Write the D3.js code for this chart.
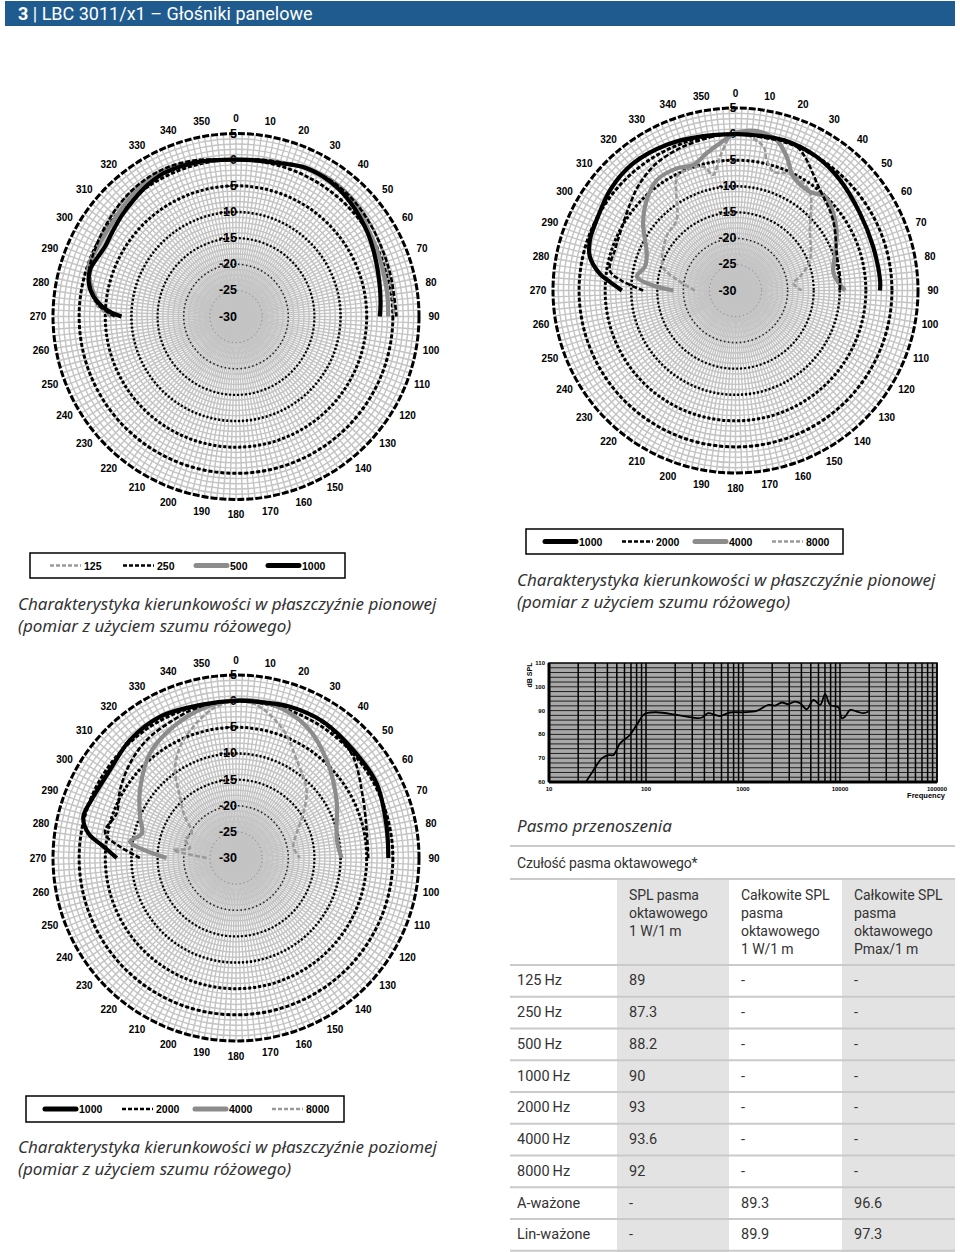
<!DOCTYPE html>
<html><head><meta charset="utf-8">
<script src="https://cdn.jsdelivr.net/npm/d3@7"></script>
<style>body{margin:0;background:#fff}</style>
</head><body>
<svg id="c" width="960" height="1252"></svg>
<script>
// ===== DATA =====
const headerNum = "3";
const headerTitle = " | LBC 3011/x1 – Głośniki panelowe";
const angleLabels = d3.range(0, 360, 10);
const dbLabels = [5, 0, -5, -10, -15, -20, -25, -30];

const lowSeries = ["125", "250", "500", "1000"];
const highSeries = ["1000", "2000", "4000", "8000"];

// Polar 1 – vertical plane, 125/250/500/1000 Hz  ([angle°, dB])
const p1_125 = [[-90,-6.0],[-85,-3.2],[-79,-1.8],[-72,-0.9],[-64,-0.3],[-55,0.3],[-45,0.9],[-35,1.3],[-25,1.3],[-15,0.8],[-6,0.2],[0,0],[8,0.3],[16,0.8],[25,1.4],[35,1.8],[45,1.8],[55,1.3],[65,0.7],[75,0.3],[83,0.2],[90,0.3]];
const p1_250 = [[-90,-6.8],[-85,-3.5],[-79,-1.5],[-72,-0.5],[-64,-0.1],[-55,0.4],[-45,1.0],[-35,1.4],[-25,1.4],[-15,0.9],[-6,0.2],[0,0],[8,0.3],[16,0.7],[25,1.3],[35,1.7],[45,1.6],[55,1.2],[65,0.8],[75,0.6],[83,0.5],[90,0.7]];
const p1_500 = [[-90,-6.2],[-84,-3.5],[-77,-1.4],[-71,-0.2],[-64,-0.4],[-55,-0.4],[-45,0.2],[-35,0.8],[-25,0.9],[-15,0.5],[-6,0.1],[0,0],[8,0.2],[16,0.6],[25,1.4],[35,1.8],[45,1.5],[53,0.6],[65,-0.2],[80,-0.7],[90,-0.9]];
const p1_1000 = [[-90,-8.1],[-87,-5.2],[-82,-2.5],[-77,-1.1],[-72,-0.7],[-67,-1.2],[-62,-1.6],[-55,-1.3],[-48,-0.8],[-41,-0.3],[-34,0.3],[-27,0.7],[-20,0.6],[-13,0.4],[-6,0.1],[0,0],[7,0.1],[14,0.3],[20,0.9],[25,1.4],[32,1.5],[39,1.3],[45,0.9],[51,0.4],[58,-0.2],[64,-0.8],[72,-1.5],[80,-2.0],[86,-2.3],[90,-2.5]];

// Polar 2 – vertical plane, 1000/2000/4000/8000 Hz
const p2_1000 = [[-90,-8.2],[-86,-5.8],[-83,-3.8],[-77,-1.35],[-71,-0.46],[-63,-0.13],[-51,0.84],[-39,1.3],[-25,0.9],[-13,0.3],[0,0],[5,0],[18,0.3],[31,0],[43,-0.8],[58,-1.9],[72,-2.3],[86,-2.2],[90,-2.3]];
const p2_2000 = [[-90,-12.3],[-85,-8],[-81,-5.6],[-71,-5.6],[-64,-5.3],[-50,-3.75],[-42,-2.5],[-32,-1.3],[-20,-0.65],[-7,-0.1],[0,0],[12,-0.2],[23,0],[40,-4.8],[54,-6.9],[72,-9.5],[83,-9.8],[90,-10]];
const p2_4000 = [[-90,-18.1],[-86,-13.6],[-82,-10.9],[-75,-12.05],[-67,-11.5],[-54,-8.1],[-44.5,-5.7],[-35.5,-4.0],[-25.7,-4.0],[-18.6,-4.6],[-11.9,-3.1],[-6,-1.6],[0,0.15],[4,0.7],[8.8,0.8],[15.3,-0.1],[20.9,-2.5],[26.9,-5.5],[37,-6.3],[43.6,-5.1],[51.7,-6.1],[60.5,-7.7],[69.5,-9.6],[80,-10.9],[90,-9]];
const p2_8000 = [[-90,-22.2],[-80,-18.85],[-72,-15.4],[-52,-13.2],[-40,-12.4],[-27,-5.4],[-22,-5.06],[-14.6,-5.46],[-10.9,-7.4],[-6.6,-4.15],[-2,-0.47],[0.4,0.5],[11,-1.9],[13.4,-4.26],[17.7,-6.08],[23.6,-5.47],[30.3,-5.46],[37.5,-6.5],[50.9,-11.6],[67.7,-14.56],[77.9,-17.35],[82.9,-18.8],[90,-17.3]];

// Polar 3 – horizontal plane, 1000/2000/4000/8000 Hz
const p3_1000 = [[-90,-7.2],[-85,-4.54],[-80.5,-1.38],[-75,0.24],[-67,-0.3],[-55,-0.6],[-42,0.33],[-28,0.68],[-13,0.05],[0,0.08],[7.5,0.15],[19.6,0.72],[32.6,0.96],[47.4,0.49],[62,0.45],[78,-0.57],[90,-0.87]];
const p3_2000 = [[-90,-11.6],[-84.4,-7.7],[-80.6,-4.94],[-77.9,-4.4],[-69.5,-5.63],[-59.6,-4.29],[-48.2,-2.82],[-37.1,-1.7],[-24.4,-1.02],[-13.4,-0.25],[0,0],[12,0.2],[25.8,0.9],[38,0.5],[49,-0.36],[65.5,-3.24],[77.9,-4.45],[90,-4.7]];
const p3_4000 = [[-90,-16.7],[-81.2,-9.5],[-75.3,-11.4],[-66.7,-10.0],[-54.7,-7.5],[-39.4,-4.1],[-25.5,-2.17],[-11,-0.53],[0,0.2],[13.7,0.11],[28.3,-1.48],[42.8,-4.47],[60,-7.8],[79.9,-10.4],[90,-9.8]];
const p3_8000 = [[-90,-24.4],[-82.7,-17.9],[-78,-21],[-70,-19.6],[-61,-20.3],[-50,-17],[-42.4,-14.1],[-34.7,-9.5],[-26.7,-6.2],[-18,-3.6],[-8.6,-1.06],[0,0],[7.7,-0.48],[20.3,-3.9],[31.8,-7.96],[46,-11.25],[56.4,-14.55],[67.9,-17.5],[78.8,-18.8],[90,-17.8]];

// Captions
const captionVert = ["Charakterystyka kierunkowości w płaszczyźnie pionowej", "(pomiar z użyciem szumu różowego)"];
const captionHor = ["Charakterystyka kierunkowości w płaszczyźnie poziomej", "(pomiar z użyciem szumu różowego)"];

// Frequency response
const freqHz = [24,28,35,41,46,54,68,80,94,101,128,206,307,374,438,514,578,734,1007,1384,1827,2140,2512,2940,3444,3880,4545,5322,6237,7030,7910,9660,10450,11300,12730,14920,17500,19700];
const splDb  = [60,64.2,69.9,71.3,71.3,76.2,79.7,83.9,88.2,88.9,89.3,88.2,87.0,87.0,88.9,88.2,87.7,89.2,89.3,89.9,92.4,92.1,93.4,92.7,93.8,93.1,90.6,94.5,92.4,96.9,92.4,91.3,86.8,87.5,90.3,89.6,88.9,89.6];
const freqTicks = [10, 100, 1000, 10000, 100000];
const splTicks = [60, 70, 80, 90, 100, 110];

// Table
const tableTitle = "Czułość pasma oktawowego*";
const colHeaders = [["SPL pasma","oktawowego","1 W/1 m"],["Całkowite SPL","pasma","oktawowego","1 W/1 m"],["Całkowite SPL","pasma","oktawowego","Pmax/1 m"]];
const rowLabels = ["125\u2009Hz","250\u2009Hz","500\u2009Hz","1000\u2009Hz","2000\u2009Hz","4000\u2009Hz","8000\u2009Hz","A-ważone","Lin-ważone"];
const colSplOctave = ["89","87.3","88.2","90","93","93.6","92","-","-"];
const colTotal1W  = ["-","-","-","-","-","-","-","89.3","89.9"];
const colTotalPmax = ["-","-","-","-","-","-","-","96.6","97.3"];

// ===== DRAWING =====
const svg = d3.select("#c");
const BF = "'Liberation Sans', Arial, sans-serif";
const TF = "Roboto, 'Noto Sans', sans-serif";
const CF = "'Noto Sans', sans-serif";

const styles = {
  "1000": {stroke:"#000", w:4.2, dash:null},
  "2000": {stroke:"#000", w:2.6, dash:"5,2"},
  "250":  {stroke:"#000", w:2.6, dash:"5,2"},
  "4000": {stroke:"#8c8c8c", w:4.2, dash:null},
  "500":  {stroke:"#8c8c8c", w:4.2, dash:null},
  "8000": {stroke:"#9a9a9a", w:2.6, dash:"5,2"},
  "125":  {stroke:"#9a9a9a", w:2.6, dash:"5,2"}
};

// header
svg.append("rect").attr("x",5).attr("y",1).attr("width",950).attr("height",25).attr("fill","#205b8f");
const ht = svg.append("text").attr("x",18).attr("y",20).attr("fill","#fff")
  .style("font-family",TF).style("font-size","18px");
ht.append("tspan").attr("font-weight","bold").text(headerNum);
ht.append("tspan").text(headerTitle);

function drawPolar(cx, cy, R, series) {
  const g = svg.append("g").attr("transform",`translate(${cx},${cy})`);
  const r = d3.scaleLinear().domain([-30,5]).range([0,R]);
  const rad = a => a*Math.PI/180;
  g.append("circle").attr("r",R).attr("fill","#fff");
  g.append("g").selectAll("line").data(d3.range(0,360,2)).join("line")
    .attr("x1",0).attr("y1",0)
    .attr("x2",a=>R*Math.sin(rad(a))).attr("y2",a=>-R*Math.cos(rad(a)))
    .attr("stroke","#c4c4c4").attr("stroke-width",1.45);
  g.append("g").selectAll("circle").data(d3.range(-29,5,1)).join("circle")
    .attr("r",d=>r(d)).attr("fill","none").attr("stroke","#c4c4c4").attr("stroke-width",1.45);
  const ring = {"5":[3,"7,2","#000"],"0":[3,"4,2","#000"],"-5":[3,"3,2","#000"],"-10":[2.6,"2,2","#000"],"-15":[2.2,"2,2","#000"],"-20":[1.6,"1.5,2.5","#222"],"-25":[1,"1,3","#777"]};
  g.append("g").selectAll("circle").data(dbLabels.filter(d=>d>-30)).join("circle")
    .attr("r",d=>r(d)).attr("fill","none")
    .attr("stroke",d=>ring[d][2]).attr("stroke-width",d=>ring[d][0]).attr("stroke-dasharray",d=>ring[d][1]);
  // angle labels
  g.append("g").selectAll("text").data(angleLabels).join("text")
    .attr("x",a=>(R+15)*Math.sin(rad(a))).attr("y",a=>-(R+15)*Math.cos(rad(a)))
    .attr("text-anchor","middle").attr("dominant-baseline","central")
    .style("font-family",BF).style("font-weight","bold").style("font-size","10px").text(d=>d);
  // db labels
  g.append("g").selectAll("text").data(dbLabels).join("text")
    .attr("x",1).attr("y",d=>-r(d)).attr("text-anchor","end").attr("dominant-baseline","central")
    .style("font-family",BF).style("font-weight","bold").style("font-size","12.5px").text(d=>d);
  const line = d3.lineRadial().angle(d=>rad(d[0])).radius(d=>r(d[1])).curve(d3.curveCatmullRom);
  series.forEach(([key,data])=>{
    const s = styles[key];
    g.append("path").attr("d",line(data)).attr("fill","none").attr("stroke",s.stroke)
      .attr("stroke-width",s.w).attr("stroke-dasharray",s.dash).attr("stroke-linecap","butt").attr("stroke-linejoin","round");
  });
}

drawPolar(236,316.5,183,[["125",p1_125],["500",p1_500],["250",p1_250],["1000",p1_1000]]);
drawPolar(735.5,290.5,182.5,[["8000",p2_8000],["4000",p2_4000],["2000",p2_2000],["1000",p2_1000]]);
drawPolar(236,858,183,[["8000",p3_8000],["4000",p3_4000],["2000",p3_2000],["1000",p3_1000]]);

function legend(x, y, w, h, keys, lineX) {
  const g = svg.append("g");
  g.append("rect").attr("x",x).attr("y",y).attr("width",w).attr("height",h).attr("fill","#fff").attr("stroke","#000").attr("stroke-width",1.5);
  keys.forEach((k,i)=>{
    const s = styles[k]; const lx = lineX[i]; const cy = y+h/2;
    g.append("line").attr("x1",lx).attr("x2",lx+31).attr("y1",cy).attr("y2",cy)
      .attr("stroke",s.stroke).attr("stroke-width",s.dash?2.6:5).attr("stroke-dasharray",s.dash?"4,2":null)
      .attr("stroke-linecap",s.dash?"butt":"round");
    g.append("text").attr("x",lx+34).attr("y",cy).attr("dominant-baseline","central")
      .style("font-family",BF).style("font-weight","bold").style("font-size","10.5px").text(k);
  });
}
legend(30,553,315,25,lowSeries,[50,123,196,268]);
legend(526,529,317,25,highSeries,[545,622,695,772]);
legend(26,1096,318,26,highSeries,[45,122,195,272]);

function caption(x, y, lines) {
  svg.append("g").selectAll("text").data(lines).join("text")
    .attr("x",x).attr("y",(d,i)=>y+i*22)
    .style("font-family",CF).style("font-style","italic").style("font-size","17px").attr("fill","#333").text(d=>d);
}
caption(18,610,captionVert);
caption(517,586,captionVert);
caption(18,1153,captionHor);

// frequency response
{
  const x = d3.scaleLog().domain([10,100000]).range([549,937]);
  const y = d3.scaleLinear().domain([60,110]).range([782,663]);
  const g = svg.append("g");
  g.append("rect").attr("x",549).attr("y",663).attr("width",388).attr("height",119).attr("fill","#a8a8a8");
  g.append("g").selectAll("line").data(d3.range(62,110,2)).join("line")
    .attr("x1",549).attr("x2",937).attr("y1",d=>y(d)).attr("y2",d=>y(d))
    .attr("stroke","#111").attr("stroke-width",0.9);
  const vt = [];
  [10,100,1000,10000].forEach(dec=>{for(let k=1;k<10;k++) vt.push(dec*k);});
  vt.push(100000);
  g.append("g").selectAll("line").data(vt).join("line")
    .attr("x1",d=>x(d)).attr("x2",d=>x(d)).attr("y1",663).attr("y2",782)
    .attr("stroke","#000").attr("stroke-width",1.5);
  g.append("rect").attr("x",549).attr("y",663).attr("width",388).attr("height",119).attr("fill","none").attr("stroke","#000").attr("stroke-width",1.5);
  g.append("line").attr("x1",549).attr("x2",549).attr("y1",663).attr("y2",782).attr("stroke","#000").attr("stroke-width",3);
  g.append("line").attr("x1",549).attr("x2",937).attr("y1",782).attr("y2",782).attr("stroke","#000").attr("stroke-width",3);
  const ln = d3.line().x((d,i)=>x(freqHz[i])).y(d=>y(d)).curve(d3.curveCatmullRom);
  g.append("path").attr("d",ln(splDb)).attr("fill","none").attr("stroke","#000").attr("stroke-width",1.8);
  g.append("g").selectAll("text").data(splTicks).join("text")
    .attr("x",545).attr("y",d=>y(d)).attr("text-anchor","end").attr("dominant-baseline","central")
    .style("font-family",BF).style("font-weight","bold").style("font-size","6px").text(d=>d);
  g.append("g").selectAll("text").data(freqTicks).join("text")
    .attr("x",d=>x(d)).attr("y",789).attr("text-anchor","middle").attr("dominant-baseline","central")
    .style("font-family",BF).style("font-weight","bold").style("font-size","6px").text(d=>d);
  g.append("text").attr("x",945).attr("y",795).attr("text-anchor","end").attr("dominant-baseline","central")
    .style("font-family",BF).style("font-weight","bold").style("font-size","7.5px").text("Frequency");
  g.append("text").attr("transform","translate(529,675) rotate(-90)").attr("text-anchor","middle").attr("dominant-baseline","central")
    .style("font-family",BF).style("font-weight","bold").style("font-size","7px").text("dB SPL");
}
caption(517,832,["Pasmo przenoszenia"]);

// table
{
  const g = svg.append("g");
  const colX = [510, 617, 729, 842, 955];
  const rowTop = 965, rowH = 31.75;
  const FS = "14px";
  g.append("rect").attr("x",617).attr("y",879).attr("width",112).attr("height",373).attr("fill","#e3e3e3");
  g.append("rect").attr("x",842).attr("y",879).attr("width",113).attr("height",373).attr("fill","#e3e3e3");
  g.append("text").attr("x",517).attr("y",868).attr("fill","#333").style("font-family",TF).style("font-size",FS).style("letter-spacing","-0.2px").text(tableTitle);
  colHeaders.forEach((lines,ci)=>{
    g.append("g").selectAll("text").data(lines).join("text")
      .attr("x",colX[ci+1]+12).attr("y",(d,i)=>900+i*18).attr("fill","#333")
      .style("font-family",TF).style("font-size",FS).style("letter-spacing","-0.1px").text(d=>d);
  });
  const hl = [846, 879].concat(d3.range(0,10).map(i=>rowTop+i*rowH));
  g.append("g").selectAll("line").data(hl).join("line")
    .attr("x1",510).attr("x2",955).attr("y1",d=>d).attr("y2",d=>d)
    .attr("stroke","#cacaca").attr("stroke-width",2);
  const cols = [rowLabels, colSplOctave, colTotal1W, colTotalPmax];
  cols.forEach((col,ci)=>{
    g.append("g").selectAll("text").data(col).join("text")
      .attr("x",ci===0?517:colX[ci]+12).attr("y",(d,i)=>rowTop+i*rowH+rowH/2).attr("dominant-baseline","central")
      .attr("fill","#333").style("font-family",TF).style("font-size","14.5px").text(d=>d);
  });
}
</script>
</body></html>
